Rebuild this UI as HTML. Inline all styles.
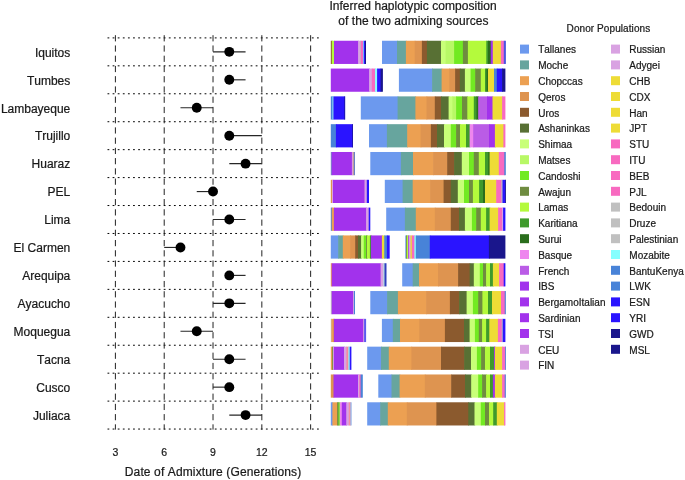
<!DOCTYPE html>
<html><head><meta charset="utf-8"><title>Admixture</title>
<style>
html,body{margin:0;padding:0;background:#fff;}
svg{display:block;will-change:transform;}
text{font-family:"Liberation Sans",sans-serif;fill:#1a1a1a;font-kerning:none;stroke:#1a1a1a;stroke-width:0.22px;}
</style></head><body>
<svg width="685" height="480" viewBox="0 0 685 480">
<rect width="685" height="480" fill="#fff"/>
<g stroke="#000" stroke-width="1" stroke-dasharray="1.8 3.31" fill="none">
<line x1="107.5" y1="37.90" x2="319" y2="37.90"/>
<line x1="107.5" y1="65.84" x2="319" y2="65.84"/>
<line x1="107.5" y1="93.78" x2="319" y2="93.78"/>
<line x1="107.5" y1="121.72" x2="319" y2="121.72"/>
<line x1="107.5" y1="149.66" x2="319" y2="149.66"/>
<line x1="107.5" y1="177.60" x2="319" y2="177.60"/>
<line x1="107.5" y1="205.54" x2="319" y2="205.54"/>
<line x1="107.5" y1="233.48" x2="319" y2="233.48"/>
<line x1="107.5" y1="261.42" x2="319" y2="261.42"/>
<line x1="107.5" y1="289.36" x2="319" y2="289.36"/>
<line x1="107.5" y1="317.30" x2="319" y2="317.30"/>
<line x1="107.5" y1="345.24" x2="319" y2="345.24"/>
<line x1="107.5" y1="373.18" x2="319" y2="373.18"/>
<line x1="107.5" y1="401.12" x2="319" y2="401.12"/>
<line x1="107.5" y1="429.06" x2="319" y2="429.06"/>
</g>
<g stroke="#222" stroke-width="1" stroke-dasharray="6.2 4.04" fill="none">
<line x1="115.40" y1="35.2" x2="115.40" y2="429.6"/>
<line x1="164.21" y1="35.2" x2="164.21" y2="429.6"/>
<line x1="213.02" y1="35.2" x2="213.02" y2="429.6"/>
<line x1="261.83" y1="35.2" x2="261.83" y2="429.6"/>
<line x1="310.64" y1="35.2" x2="310.64" y2="429.6"/>
</g>
<text x="70.3" y="56.67" font-size="12" text-anchor="end">Iquitos</text>
<line x1="213.02" y1="51.87" x2="245.56" y2="51.87" stroke="#262626" stroke-width="1.15"/>
<circle cx="229.29" cy="51.87" r="4.95" fill="#000"/>
<rect x="330.80" y="40.75" width="1.70" height="23.2" fill="#8B5A2E"/>
<rect x="331.80" y="40.75" width="2.90" height="23.2" fill="#B4FA3C"/>
<rect x="334.00" y="40.75" width="24.80" height="23.2" fill="#A232EC"/>
<rect x="358.10" y="40.75" width="2.50" height="23.2" fill="#D9A2E2"/>
<rect x="359.90" y="40.75" width="1.50" height="23.2" fill="#C0C0C0"/>
<rect x="360.70" y="40.75" width="3.10" height="23.2" fill="#F86AC0"/>
<rect x="363.10" y="40.75" width="1.30" height="23.2" fill="#86FFFF"/>
<rect x="363.70" y="40.75" width="2.00" height="23.2" fill="#2A14FF"/>
<rect x="365.00" y="40.75" width="1.00" height="23.2" fill="#1A168C"/>
<rect x="382.00" y="40.75" width="15.70" height="23.2" fill="#6C99EE"/>
<rect x="397.00" y="40.75" width="9.60" height="23.2" fill="#67A59E"/>
<rect x="405.90" y="40.75" width="9.50" height="23.2" fill="#ECA052"/>
<rect x="414.70" y="40.75" width="7.90" height="23.2" fill="#DE9450"/>
<rect x="421.90" y="40.75" width="5.70" height="23.2" fill="#8B5A2E"/>
<rect x="426.90" y="40.75" width="14.80" height="23.2" fill="#587034"/>
<rect x="441.00" y="40.75" width="5.30" height="23.2" fill="#C8FF78"/>
<rect x="445.60" y="40.75" width="9.20" height="23.2" fill="#B8F866"/>
<rect x="454.10" y="40.75" width="9.50" height="23.2" fill="#72EA22"/>
<rect x="462.90" y="40.75" width="5.70" height="23.2" fill="#6F8C40"/>
<rect x="467.90" y="40.75" width="19.10" height="23.2" fill="#B4FA3C"/>
<rect x="486.30" y="40.75" width="2.40" height="23.2" fill="#3F9A2C"/>
<rect x="488.00" y="40.75" width="3.40" height="23.2" fill="#2A6E1C"/>
<rect x="490.70" y="40.75" width="2.80" height="23.2" fill="#A232EC"/>
<rect x="492.80" y="40.75" width="8.80" height="23.2" fill="#EEDC36"/>
<rect x="500.90" y="40.75" width="3.60" height="23.2" fill="#F86AC0"/>
<rect x="503.80" y="40.75" width="2.10" height="23.2" fill="#4B55E0"/>
<text x="70.3" y="84.61" font-size="12" text-anchor="end">Tumbes</text>
<line x1="229.29" y1="79.81" x2="245.56" y2="79.81" stroke="#262626" stroke-width="1.15"/>
<circle cx="229.29" cy="79.81" r="4.95" fill="#000"/>
<rect x="330.80" y="68.56" width="39.00" height="23.2" fill="#A232EC"/>
<rect x="369.10" y="68.56" width="3.40" height="23.2" fill="#D9A2E2"/>
<rect x="371.80" y="68.56" width="3.90" height="23.2" fill="#F86AC0"/>
<rect x="375.00" y="68.56" width="2.80" height="23.2" fill="#86FFFF"/>
<rect x="377.10" y="68.56" width="4.20" height="23.2" fill="#2A14FF"/>
<rect x="380.60" y="68.56" width="2.30" height="23.2" fill="#1A168C"/>
<rect x="398.90" y="68.56" width="33.90" height="23.2" fill="#6C99EE"/>
<rect x="432.10" y="68.56" width="10.20" height="23.2" fill="#67A59E"/>
<rect x="441.60" y="68.56" width="8.40" height="23.2" fill="#ECA052"/>
<rect x="449.30" y="68.56" width="6.50" height="23.2" fill="#DE9450"/>
<rect x="455.10" y="68.56" width="5.40" height="23.2" fill="#8B5A2E"/>
<rect x="459.80" y="68.56" width="5.80" height="23.2" fill="#587034"/>
<rect x="464.90" y="68.56" width="6.40" height="23.2" fill="#C8FF78"/>
<rect x="470.60" y="68.56" width="5.30" height="23.2" fill="#72EA22"/>
<rect x="475.20" y="68.56" width="6.30" height="23.2" fill="#6F8C40"/>
<rect x="480.80" y="68.56" width="4.90" height="23.2" fill="#B4FA3C"/>
<rect x="485.00" y="68.56" width="2.20" height="23.2" fill="#3F9A2C"/>
<rect x="486.50" y="68.56" width="2.20" height="23.2" fill="#2A6E1C"/>
<rect x="488.00" y="68.56" width="6.70" height="23.2" fill="#EEDC36"/>
<rect x="494.00" y="68.56" width="3.50" height="23.2" fill="#4883D8"/>
<rect x="496.80" y="68.56" width="6.00" height="23.2" fill="#2A14FF"/>
<rect x="502.10" y="68.56" width="3.30" height="23.2" fill="#1A168C"/>
<text x="70.3" y="112.55" font-size="12" text-anchor="end">Lambayeque</text>
<line x1="180.48" y1="107.75" x2="213.02" y2="107.75" stroke="#262626" stroke-width="1.15"/>
<circle cx="196.75" cy="107.75" r="4.95" fill="#000"/>
<rect x="330.80" y="96.37" width="2.10" height="23.2" fill="#4883D8"/>
<rect x="332.20" y="96.37" width="2.00" height="23.2" fill="#7CC8F0"/>
<rect x="333.50" y="96.37" width="11.60" height="23.2" fill="#2A14FF"/>
<rect x="344.40" y="96.37" width="0.70" height="23.2" fill="#1A168C"/>
<rect x="360.80" y="96.37" width="37.50" height="23.2" fill="#6C99EE"/>
<rect x="397.60" y="96.37" width="18.50" height="23.2" fill="#67A59E"/>
<rect x="415.40" y="96.37" width="11.80" height="23.2" fill="#ECA052"/>
<rect x="426.50" y="96.37" width="9.00" height="23.2" fill="#DE9450"/>
<rect x="434.80" y="96.37" width="6.90" height="23.2" fill="#8B5A2E"/>
<rect x="441.00" y="96.37" width="8.30" height="23.2" fill="#587034"/>
<rect x="448.60" y="96.37" width="4.50" height="23.2" fill="#C8FF78"/>
<rect x="452.40" y="96.37" width="4.40" height="23.2" fill="#B8F866"/>
<rect x="456.10" y="96.37" width="6.60" height="23.2" fill="#72EA22"/>
<rect x="462.00" y="96.37" width="6.00" height="23.2" fill="#6F8C40"/>
<rect x="467.30" y="96.37" width="7.20" height="23.2" fill="#B4FA3C"/>
<rect x="473.80" y="96.37" width="3.40" height="23.2" fill="#3F9A2C"/>
<rect x="476.50" y="96.37" width="2.40" height="23.2" fill="#2A6E1C"/>
<rect x="478.20" y="96.37" width="9.50" height="23.2" fill="#BA5CE6"/>
<rect x="487.00" y="96.37" width="6.20" height="23.2" fill="#A232EC"/>
<rect x="492.50" y="96.37" width="10.30" height="23.2" fill="#EEDC36"/>
<rect x="502.10" y="96.37" width="3.30" height="23.2" fill="#F86AC0"/>
<text x="70.3" y="140.49" font-size="12" text-anchor="end">Trujillo</text>
<line x1="229.29" y1="135.69" x2="261.83" y2="135.69" stroke="#262626" stroke-width="1.15"/>
<circle cx="229.29" cy="135.69" r="4.95" fill="#000"/>
<rect x="330.80" y="124.18" width="5.80" height="23.2" fill="#4883D8"/>
<rect x="335.90" y="124.18" width="17.10" height="23.2" fill="#2A14FF"/>
<rect x="352.30" y="124.18" width="0.70" height="23.2" fill="#1A168C"/>
<rect x="369.00" y="124.18" width="18.60" height="23.2" fill="#6C99EE"/>
<rect x="386.90" y="124.18" width="21.00" height="23.2" fill="#67A59E"/>
<rect x="407.20" y="124.18" width="14.10" height="23.2" fill="#ECA052"/>
<rect x="420.60" y="124.18" width="11.00" height="23.2" fill="#DE9450"/>
<rect x="430.90" y="124.18" width="6.80" height="23.2" fill="#8B5A2E"/>
<rect x="437.00" y="124.18" width="7.70" height="23.2" fill="#587034"/>
<rect x="444.00" y="124.18" width="7.50" height="23.2" fill="#C8FF78"/>
<rect x="450.80" y="124.18" width="6.00" height="23.2" fill="#72EA22"/>
<rect x="456.10" y="124.18" width="4.60" height="23.2" fill="#6F8C40"/>
<rect x="460.00" y="124.18" width="6.70" height="23.2" fill="#B4FA3C"/>
<rect x="466.00" y="124.18" width="4.30" height="23.2" fill="#3F9A2C"/>
<rect x="469.60" y="124.18" width="4.30" height="23.2" fill="#EE86EE"/>
<rect x="473.20" y="124.18" width="16.50" height="23.2" fill="#BA5CE6"/>
<rect x="489.00" y="124.18" width="6.60" height="23.2" fill="#A232EC"/>
<rect x="494.90" y="124.18" width="9.20" height="23.2" fill="#EEDC36"/>
<rect x="503.40" y="124.18" width="2.00" height="23.2" fill="#F86AC0"/>
<text x="70.3" y="168.43" font-size="12" text-anchor="end">Huaraz</text>
<line x1="229.29" y1="163.63" x2="261.83" y2="163.63" stroke="#262626" stroke-width="1.15"/>
<circle cx="245.56" cy="163.63" r="4.95" fill="#000"/>
<rect x="330.80" y="151.99" width="1.60" height="23.2" fill="#7A8AC8"/>
<rect x="331.70" y="151.99" width="20.90" height="23.2" fill="#A232EC"/>
<rect x="351.90" y="151.99" width="1.70" height="23.2" fill="#D9A2E2"/>
<rect x="352.90" y="151.99" width="1.60" height="23.2" fill="#D8A890"/>
<rect x="353.80" y="151.99" width="1.10" height="23.2" fill="#5A78C8"/>
<rect x="370.30" y="151.99" width="31.30" height="23.2" fill="#6C99EE"/>
<rect x="400.90" y="151.99" width="12.80" height="23.2" fill="#67A59E"/>
<rect x="413.00" y="151.99" width="20.80" height="23.2" fill="#ECA052"/>
<rect x="433.10" y="151.99" width="14.80" height="23.2" fill="#DE9450"/>
<rect x="447.20" y="151.99" width="7.60" height="23.2" fill="#8B5A2E"/>
<rect x="454.10" y="151.99" width="8.40" height="23.2" fill="#587034"/>
<rect x="461.80" y="151.99" width="7.90" height="23.2" fill="#C8FF78"/>
<rect x="469.00" y="151.99" width="5.50" height="23.2" fill="#72EA22"/>
<rect x="473.80" y="151.99" width="5.70" height="23.2" fill="#6F8C40"/>
<rect x="478.80" y="151.99" width="6.90" height="23.2" fill="#B4FA3C"/>
<rect x="485.00" y="151.99" width="4.00" height="23.2" fill="#3F9A2C"/>
<rect x="488.30" y="151.99" width="2.00" height="23.2" fill="#2A6E1C"/>
<rect x="489.60" y="151.99" width="9.90" height="23.2" fill="#EEDC36"/>
<rect x="498.80" y="151.99" width="6.20" height="23.2" fill="#F86AC0"/>
<rect x="504.30" y="151.99" width="1.50" height="23.2" fill="#4883D8"/>
<text x="70.3" y="196.37" font-size="12" text-anchor="end">PEL</text>
<line x1="196.75" y1="191.57" x2="213.02" y2="191.57" stroke="#262626" stroke-width="1.15"/>
<circle cx="213.02" cy="191.57" r="4.95" fill="#000"/>
<rect x="330.80" y="179.80" width="1.90" height="23.2" fill="#DE9450"/>
<rect x="332.00" y="179.80" width="1.70" height="23.2" fill="#D9A2E2"/>
<rect x="333.00" y="179.80" width="32.20" height="23.2" fill="#A232EC"/>
<rect x="364.50" y="179.80" width="3.00" height="23.2" fill="#D9A2E2"/>
<rect x="366.80" y="179.80" width="2.20" height="23.2" fill="#2A14FF"/>
<rect x="384.80" y="179.80" width="18.50" height="23.2" fill="#6C99EE"/>
<rect x="402.60" y="179.80" width="10.80" height="23.2" fill="#67A59E"/>
<rect x="412.70" y="179.80" width="18.10" height="23.2" fill="#ECA052"/>
<rect x="430.10" y="179.80" width="14.20" height="23.2" fill="#DE9450"/>
<rect x="443.60" y="179.80" width="7.90" height="23.2" fill="#8B5A2E"/>
<rect x="450.80" y="179.80" width="7.70" height="23.2" fill="#587034"/>
<rect x="457.80" y="179.80" width="6.90" height="23.2" fill="#C8FF78"/>
<rect x="464.00" y="179.80" width="5.70" height="23.2" fill="#72EA22"/>
<rect x="469.00" y="179.80" width="4.60" height="23.2" fill="#6F8C40"/>
<rect x="472.90" y="179.80" width="6.90" height="23.2" fill="#B4FA3C"/>
<rect x="479.10" y="179.80" width="4.60" height="23.2" fill="#3F9A2C"/>
<rect x="483.00" y="179.80" width="2.70" height="23.2" fill="#2A6E1C"/>
<rect x="485.00" y="179.80" width="11.90" height="23.2" fill="#EEDC36"/>
<rect x="496.20" y="179.80" width="5.90" height="23.2" fill="#F86AC0"/>
<rect x="501.40" y="179.80" width="1.80" height="23.2" fill="#C0C0C0"/>
<rect x="502.50" y="179.80" width="3.20" height="23.2" fill="#2A14FF"/>
<rect x="505.00" y="179.80" width="0.80" height="23.2" fill="#1A168C"/>
<text x="70.3" y="224.31" font-size="12" text-anchor="end">Lima</text>
<line x1="213.02" y1="219.51" x2="245.56" y2="219.51" stroke="#262626" stroke-width="1.15"/>
<circle cx="229.29" cy="219.51" r="4.95" fill="#000"/>
<rect x="330.80" y="207.61" width="1.60" height="23.2" fill="#4883D8"/>
<rect x="331.70" y="207.61" width="2.90" height="23.2" fill="#ECA052"/>
<rect x="333.90" y="207.61" width="32.90" height="23.2" fill="#A232EC"/>
<rect x="366.10" y="207.61" width="3.30" height="23.2" fill="#D9A2E2"/>
<rect x="368.70" y="207.61" width="1.60" height="23.2" fill="#2A14FF"/>
<rect x="386.20" y="207.61" width="19.40" height="23.2" fill="#6C99EE"/>
<rect x="404.90" y="207.61" width="11.60" height="23.2" fill="#67A59E"/>
<rect x="415.80" y="207.61" width="19.70" height="23.2" fill="#ECA052"/>
<rect x="434.80" y="207.61" width="16.70" height="23.2" fill="#DE9450"/>
<rect x="450.80" y="207.61" width="8.90" height="23.2" fill="#8B5A2E"/>
<rect x="459.00" y="207.61" width="6.60" height="23.2" fill="#587034"/>
<rect x="464.90" y="207.61" width="7.70" height="23.2" fill="#C8FF78"/>
<rect x="471.90" y="207.61" width="5.00" height="23.2" fill="#72EA22"/>
<rect x="476.20" y="207.61" width="5.30" height="23.2" fill="#6F8C40"/>
<rect x="480.80" y="207.61" width="6.00" height="23.2" fill="#B4FA3C"/>
<rect x="486.10" y="207.61" width="4.20" height="23.2" fill="#3F9A2C"/>
<rect x="489.60" y="207.61" width="9.20" height="23.2" fill="#EEDC36"/>
<rect x="498.10" y="207.61" width="4.70" height="23.2" fill="#F86AC0"/>
<rect x="502.10" y="207.61" width="1.70" height="23.2" fill="#D9A2E2"/>
<rect x="503.10" y="207.61" width="2.30" height="23.2" fill="#2A14FF"/>
<text x="70.3" y="252.25" font-size="12" text-anchor="end">El Carmen</text>
<line x1="164.21" y1="247.45" x2="180.48" y2="247.45" stroke="#262626" stroke-width="1.15"/>
<circle cx="180.48" cy="247.45" r="4.95" fill="#000"/>
<rect x="330.80" y="235.42" width="8.10" height="23.2" fill="#6C99EE"/>
<rect x="338.20" y="235.42" width="5.30" height="23.2" fill="#67A59E"/>
<rect x="342.80" y="235.42" width="8.00" height="23.2" fill="#ECA052"/>
<rect x="350.10" y="235.42" width="5.80" height="23.2" fill="#DE9450"/>
<rect x="355.20" y="235.42" width="3.50" height="23.2" fill="#8B5A2E"/>
<rect x="358.00" y="235.42" width="3.80" height="23.2" fill="#587034"/>
<rect x="361.10" y="235.42" width="3.35" height="23.2" fill="#C8FF78"/>
<rect x="363.75" y="235.42" width="3.05" height="23.2" fill="#72EA22"/>
<rect x="366.10" y="235.42" width="1.60" height="23.2" fill="#6F8C40"/>
<rect x="367.00" y="235.42" width="3.60" height="23.2" fill="#B4FA3C"/>
<rect x="369.90" y="235.42" width="1.70" height="23.2" fill="#3F9A2C"/>
<rect x="370.90" y="235.42" width="11.70" height="23.2" fill="#A232EC"/>
<rect x="381.90" y="235.42" width="3.05" height="23.2" fill="#EEDC36"/>
<rect x="384.25" y="235.42" width="3.35" height="23.2" fill="#4883D8"/>
<rect x="386.90" y="235.42" width="2.80" height="23.2" fill="#2A14FF"/>
<rect x="405.30" y="235.42" width="1.40" height="23.2" fill="#6C99EE"/>
<rect x="406.00" y="235.42" width="1.50" height="23.2" fill="#6F8C40"/>
<rect x="406.80" y="235.42" width="2.00" height="23.2" fill="#B4FA3C"/>
<rect x="408.10" y="235.42" width="1.40" height="23.2" fill="#A232EC"/>
<rect x="408.80" y="235.42" width="2.40" height="23.2" fill="#D9A2E2"/>
<rect x="410.50" y="235.42" width="2.00" height="23.2" fill="#EEDC36"/>
<rect x="411.80" y="235.42" width="3.30" height="23.2" fill="#F86AC0"/>
<rect x="414.40" y="235.42" width="2.10" height="23.2" fill="#86FFFF"/>
<rect x="415.80" y="235.42" width="14.70" height="23.2" fill="#4883D8"/>
<rect x="429.80" y="235.42" width="59.80" height="23.2" fill="#2A14FF"/>
<rect x="488.90" y="235.42" width="16.50" height="23.2" fill="#1A168C"/>
<text x="70.3" y="280.19" font-size="12" text-anchor="end">Arequipa</text>
<line x1="229.29" y1="275.39" x2="245.56" y2="275.39" stroke="#262626" stroke-width="1.15"/>
<circle cx="229.29" cy="275.39" r="4.95" fill="#000"/>
<rect x="330.80" y="263.23" width="1.60" height="23.2" fill="#ECA052"/>
<rect x="331.70" y="263.23" width="49.60" height="23.2" fill="#A232EC"/>
<rect x="380.60" y="263.23" width="3.30" height="23.2" fill="#D9A2E2"/>
<rect x="383.20" y="263.23" width="2.00" height="23.2" fill="#B8D8E0"/>
<rect x="384.50" y="263.23" width="2.00" height="23.2" fill="#2E3FC0"/>
<rect x="402.20" y="263.23" width="11.20" height="23.2" fill="#6C99EE"/>
<rect x="412.70" y="263.23" width="7.00" height="23.2" fill="#67A59E"/>
<rect x="419.00" y="263.23" width="19.70" height="23.2" fill="#ECA052"/>
<rect x="438.00" y="263.23" width="20.80" height="23.2" fill="#DE9450"/>
<rect x="458.10" y="263.23" width="12.20" height="23.2" fill="#8B5A2E"/>
<rect x="469.60" y="263.23" width="4.90" height="23.2" fill="#587034"/>
<rect x="473.80" y="263.23" width="6.70" height="23.2" fill="#C8FF78"/>
<rect x="479.80" y="263.23" width="3.90" height="23.2" fill="#72EA22"/>
<rect x="483.00" y="263.23" width="3.80" height="23.2" fill="#6F8C40"/>
<rect x="486.10" y="263.23" width="4.60" height="23.2" fill="#B4FA3C"/>
<rect x="490.00" y="263.23" width="3.60" height="23.2" fill="#3F9A2C"/>
<rect x="492.90" y="263.23" width="6.90" height="23.2" fill="#EEDC36"/>
<rect x="499.10" y="263.23" width="5.30" height="23.2" fill="#F86AC0"/>
<rect x="503.70" y="263.23" width="1.70" height="23.2" fill="#2A14FF"/>
<text x="70.3" y="308.13" font-size="12" text-anchor="end">Ayacucho</text>
<line x1="213.02" y1="303.33" x2="245.56" y2="303.33" stroke="#262626" stroke-width="1.15"/>
<circle cx="229.29" cy="303.33" r="4.95" fill="#000"/>
<rect x="330.80" y="291.04" width="1.60" height="23.2" fill="#C0C0C0"/>
<rect x="331.70" y="291.04" width="22.00" height="23.2" fill="#A232EC"/>
<rect x="353.00" y="291.04" width="1.60" height="23.2" fill="#D9A2E2"/>
<rect x="353.90" y="291.04" width="1.10" height="23.2" fill="#4883D8"/>
<rect x="370.30" y="291.04" width="17.50" height="23.2" fill="#6C99EE"/>
<rect x="387.10" y="291.04" width="11.50" height="23.2" fill="#67A59E"/>
<rect x="397.90" y="291.04" width="28.90" height="23.2" fill="#ECA052"/>
<rect x="426.10" y="291.04" width="24.50" height="23.2" fill="#DE9450"/>
<rect x="449.90" y="291.04" width="9.90" height="23.2" fill="#8B5A2E"/>
<rect x="459.10" y="291.04" width="8.20" height="23.2" fill="#587034"/>
<rect x="466.60" y="291.04" width="7.00" height="23.2" fill="#C8FF78"/>
<rect x="472.90" y="291.04" width="6.00" height="23.2" fill="#72EA22"/>
<rect x="478.20" y="291.04" width="4.90" height="23.2" fill="#6F8C40"/>
<rect x="482.40" y="291.04" width="6.30" height="23.2" fill="#B4FA3C"/>
<rect x="488.00" y="291.04" width="4.70" height="23.2" fill="#3F9A2C"/>
<rect x="492.00" y="291.04" width="9.70" height="23.2" fill="#EEDC36"/>
<rect x="501.00" y="291.04" width="4.40" height="23.2" fill="#F86AC0"/>
<rect x="504.70" y="291.04" width="1.10" height="23.2" fill="#4883D8"/>
<text x="70.3" y="336.07" font-size="12" text-anchor="end">Moquegua</text>
<line x1="180.48" y1="331.27" x2="213.02" y2="331.27" stroke="#262626" stroke-width="1.15"/>
<circle cx="196.75" cy="331.27" r="4.95" fill="#000"/>
<rect x="330.80" y="318.85" width="1.30" height="23.2" fill="#C0C0C0"/>
<rect x="331.40" y="318.85" width="2.30" height="23.2" fill="#ECA052"/>
<rect x="333.00" y="318.85" width="1.60" height="23.2" fill="#DE9450"/>
<rect x="333.90" y="318.85" width="30.00" height="23.2" fill="#A232EC"/>
<rect x="363.20" y="318.85" width="1.60" height="23.2" fill="#D9A2E2"/>
<rect x="364.10" y="318.85" width="2.00" height="23.2" fill="#5A5AF0"/>
<rect x="381.90" y="318.85" width="11.60" height="23.2" fill="#6C99EE"/>
<rect x="392.80" y="318.85" width="7.90" height="23.2" fill="#67A59E"/>
<rect x="400.00" y="318.85" width="20.00" height="23.2" fill="#ECA052"/>
<rect x="419.30" y="318.85" width="26.30" height="23.2" fill="#DE9450"/>
<rect x="444.90" y="318.85" width="19.80" height="23.2" fill="#8B5A2E"/>
<rect x="464.00" y="318.85" width="6.30" height="23.2" fill="#587034"/>
<rect x="469.60" y="318.85" width="6.00" height="23.2" fill="#C8FF78"/>
<rect x="474.90" y="318.85" width="4.60" height="23.2" fill="#72EA22"/>
<rect x="478.80" y="318.85" width="4.00" height="23.2" fill="#6F8C40"/>
<rect x="482.10" y="318.85" width="4.70" height="23.2" fill="#B4FA3C"/>
<rect x="486.10" y="318.85" width="3.90" height="23.2" fill="#3F9A2C"/>
<rect x="489.30" y="318.85" width="9.30" height="23.2" fill="#EEDC36"/>
<rect x="497.90" y="318.85" width="4.60" height="23.2" fill="#F86AC0"/>
<rect x="501.80" y="318.85" width="1.60" height="23.2" fill="#C0C0C0"/>
<rect x="502.70" y="318.85" width="2.70" height="23.2" fill="#2A14FF"/>
<text x="70.3" y="364.01" font-size="12" text-anchor="end">Tacna</text>
<line x1="213.02" y1="359.21" x2="245.56" y2="359.21" stroke="#262626" stroke-width="1.15"/>
<circle cx="229.29" cy="359.21" r="4.95" fill="#000"/>
<rect x="330.80" y="346.66" width="2.10" height="23.2" fill="#ECA052"/>
<rect x="332.20" y="346.66" width="1.50" height="23.2" fill="#6F8C40"/>
<rect x="333.00" y="346.66" width="1.60" height="23.2" fill="#D9A2E2"/>
<rect x="333.90" y="346.66" width="10.80" height="23.2" fill="#A232EC"/>
<rect x="344.00" y="346.66" width="3.10" height="23.2" fill="#D9A2E2"/>
<rect x="346.40" y="346.66" width="2.70" height="23.2" fill="#F5889F"/>
<rect x="348.40" y="346.66" width="2.00" height="23.2" fill="#86FFFF"/>
<rect x="349.70" y="346.66" width="1.70" height="23.2" fill="#2A14FF"/>
<rect x="367.20" y="346.66" width="14.50" height="23.2" fill="#6C99EE"/>
<rect x="381.00" y="346.66" width="8.50" height="23.2" fill="#67A59E"/>
<rect x="388.80" y="346.66" width="23.30" height="23.2" fill="#ECA052"/>
<rect x="411.40" y="346.66" width="30.30" height="23.2" fill="#DE9450"/>
<rect x="441.00" y="346.66" width="23.90" height="23.2" fill="#8B5A2E"/>
<rect x="464.20" y="346.66" width="7.50" height="23.2" fill="#587034"/>
<rect x="471.00" y="346.66" width="6.60" height="23.2" fill="#C8FF78"/>
<rect x="476.90" y="346.66" width="4.90" height="23.2" fill="#72EA22"/>
<rect x="481.10" y="346.66" width="4.60" height="23.2" fill="#6F8C40"/>
<rect x="485.00" y="346.66" width="5.70" height="23.2" fill="#B4FA3C"/>
<rect x="490.00" y="346.66" width="4.70" height="23.2" fill="#3F9A2C"/>
<rect x="494.00" y="346.66" width="1.60" height="23.2" fill="#A232EC"/>
<rect x="494.90" y="346.66" width="7.90" height="23.2" fill="#EEDC36"/>
<rect x="502.10" y="346.66" width="3.60" height="23.2" fill="#F86AC0"/>
<rect x="505.00" y="346.66" width="0.80" height="23.2" fill="#4883D8"/>
<text x="70.3" y="391.95" font-size="12" text-anchor="end">Cusco</text>
<line x1="213.02" y1="387.15" x2="229.29" y2="387.15" stroke="#262626" stroke-width="1.15"/>
<circle cx="229.29" cy="387.15" r="4.95" fill="#000"/>
<rect x="330.80" y="374.47" width="3.40" height="23.2" fill="#DE9450"/>
<rect x="333.50" y="374.47" width="25.20" height="23.2" fill="#A232EC"/>
<rect x="358.00" y="374.47" width="2.00" height="23.2" fill="#D9A2E2"/>
<rect x="359.30" y="374.47" width="2.00" height="23.2" fill="#F86AC0"/>
<rect x="360.60" y="374.47" width="2.20" height="23.2" fill="#4883D8"/>
<rect x="378.30" y="374.47" width="13.90" height="23.2" fill="#6C99EE"/>
<rect x="391.50" y="374.47" width="8.80" height="23.2" fill="#67A59E"/>
<rect x="399.60" y="374.47" width="25.90" height="23.2" fill="#ECA052"/>
<rect x="424.80" y="374.47" width="27.10" height="23.2" fill="#DE9450"/>
<rect x="451.20" y="374.47" width="14.50" height="23.2" fill="#8B5A2E"/>
<rect x="465.00" y="374.47" width="6.90" height="23.2" fill="#587034"/>
<rect x="471.20" y="374.47" width="7.70" height="23.2" fill="#C8FF78"/>
<rect x="478.20" y="374.47" width="4.60" height="23.2" fill="#72EA22"/>
<rect x="482.10" y="374.47" width="4.70" height="23.2" fill="#6F8C40"/>
<rect x="486.10" y="374.47" width="4.60" height="23.2" fill="#B4FA3C"/>
<rect x="490.00" y="374.47" width="3.60" height="23.2" fill="#3F9A2C"/>
<rect x="492.90" y="374.47" width="2.70" height="23.2" fill="#A232EC"/>
<rect x="494.90" y="374.47" width="7.90" height="23.2" fill="#EEDC36"/>
<rect x="502.10" y="374.47" width="3.30" height="23.2" fill="#F86AC0"/>
<rect x="504.70" y="374.47" width="1.10" height="23.2" fill="#4883D8"/>
<text x="70.3" y="419.89" font-size="12" text-anchor="end">Juliaca</text>
<line x1="229.29" y1="415.09" x2="261.83" y2="415.09" stroke="#262626" stroke-width="1.15"/>
<circle cx="245.56" cy="415.09" r="4.95" fill="#000"/>
<rect x="330.80" y="402.28" width="2.30" height="23.2" fill="#6C99EE"/>
<rect x="332.40" y="402.28" width="5.40" height="23.2" fill="#ECA052"/>
<rect x="337.10" y="402.28" width="2.10" height="23.2" fill="#6F8C40"/>
<rect x="338.50" y="402.28" width="1.95" height="23.2" fill="#72EA22"/>
<rect x="339.75" y="402.28" width="2.75" height="23.2" fill="#EE86EE"/>
<rect x="341.80" y="402.28" width="5.15" height="23.2" fill="#A232EC"/>
<rect x="346.25" y="402.28" width="3.20" height="23.2" fill="#D9A2E2"/>
<rect x="348.75" y="402.28" width="2.25" height="23.2" fill="#F58FA0"/>
<rect x="350.30" y="402.28" width="1.40" height="23.2" fill="#9AB8E8"/>
<rect x="367.20" y="402.28" width="13.70" height="23.2" fill="#6C99EE"/>
<rect x="380.20" y="402.28" width="8.30" height="23.2" fill="#67A59E"/>
<rect x="387.80" y="402.28" width="19.70" height="23.2" fill="#ECA052"/>
<rect x="406.80" y="402.28" width="30.30" height="23.2" fill="#DE9450"/>
<rect x="436.40" y="402.28" width="32.60" height="23.2" fill="#8B5A2E"/>
<rect x="468.30" y="402.28" width="6.90" height="23.2" fill="#587034"/>
<rect x="474.50" y="402.28" width="7.00" height="23.2" fill="#C8FF78"/>
<rect x="480.80" y="402.28" width="4.90" height="23.2" fill="#72EA22"/>
<rect x="485.00" y="402.28" width="4.70" height="23.2" fill="#6F8C40"/>
<rect x="489.00" y="402.28" width="4.90" height="23.2" fill="#B4FA3C"/>
<rect x="493.20" y="402.28" width="4.30" height="23.2" fill="#3F9A2C"/>
<rect x="496.80" y="402.28" width="8.00" height="23.2" fill="#EEDC36"/>
<rect x="504.10" y="402.28" width="1.30" height="23.2" fill="#F86AC0"/>
<text x="115.40" y="455.6" font-size="10.5" text-anchor="middle">3</text>
<text x="164.21" y="455.6" font-size="10.5" text-anchor="middle">6</text>
<text x="213.02" y="455.6" font-size="10.5" text-anchor="middle">9</text>
<text x="261.83" y="455.6" font-size="10.5" text-anchor="middle">12</text>
<text x="310.64" y="455.6" font-size="10.5" text-anchor="middle">15</text>
<text x="213.0" y="475.8" font-size="12" text-anchor="middle" textLength="176.4" lengthAdjust="spacing">Date of Admixture (Generations)</text>
<text x="413.0" y="10.1" font-size="12" text-anchor="middle" textLength="167.2" lengthAdjust="spacing">Inferred haplotypic composition</text>
<text x="413.4" y="24.8" font-size="12" text-anchor="middle" textLength="150.4" lengthAdjust="spacing">of the two admixing sources</text>
<text x="608.4" y="31.9" font-size="10" text-anchor="middle" textLength="83.6" lengthAdjust="spacing">Donor Populations</text>
<rect x="520" y="44.60" width="9" height="9" fill="#6C99EE"/>
<text x="538.2" y="53.30" font-size="10">Tallanes</text>
<rect x="520" y="60.40" width="9" height="9" fill="#67A59E"/>
<text x="538.2" y="69.10" font-size="10">Moche</text>
<rect x="520" y="76.20" width="9" height="9" fill="#ECA052"/>
<text x="538.2" y="84.90" font-size="10">Chopccas</text>
<rect x="520" y="92.00" width="9" height="9" fill="#DE9450"/>
<text x="538.2" y="100.70" font-size="10">Qeros</text>
<rect x="520" y="107.80" width="9" height="9" fill="#8B5A2E"/>
<text x="538.2" y="116.50" font-size="10">Uros</text>
<rect x="520" y="123.60" width="9" height="9" fill="#587034"/>
<text x="538.2" y="132.30" font-size="10">Ashaninkas</text>
<rect x="520" y="139.40" width="9" height="9" fill="#C8FF78"/>
<text x="538.2" y="148.10" font-size="10">Shimaa</text>
<rect x="520" y="155.20" width="9" height="9" fill="#B8F866"/>
<text x="538.2" y="163.90" font-size="10">Matses</text>
<rect x="520" y="171.00" width="9" height="9" fill="#72EA22"/>
<text x="538.2" y="179.70" font-size="10">Candoshi</text>
<rect x="520" y="186.80" width="9" height="9" fill="#6F8C40"/>
<text x="538.2" y="195.50" font-size="10">Awajun</text>
<rect x="520" y="202.60" width="9" height="9" fill="#B4FA3C"/>
<text x="538.2" y="211.30" font-size="10">Lamas</text>
<rect x="520" y="218.40" width="9" height="9" fill="#3F9A2C"/>
<text x="538.2" y="227.10" font-size="10">Karitiana</text>
<rect x="520" y="234.20" width="9" height="9" fill="#2A6E1C"/>
<text x="538.2" y="242.90" font-size="10">Surui</text>
<rect x="520" y="250.00" width="9" height="9" fill="#EE86EE"/>
<text x="538.2" y="258.70" font-size="10">Basque</text>
<rect x="520" y="265.80" width="9" height="9" fill="#BA5CE6"/>
<text x="538.2" y="274.50" font-size="10">French</text>
<rect x="520" y="281.60" width="9" height="9" fill="#A232EC"/>
<text x="538.2" y="290.30" font-size="10">IBS</text>
<rect x="520" y="297.40" width="9" height="9" fill="#A232EC"/>
<text x="538.2" y="306.10" font-size="10">BergamoItalian</text>
<rect x="520" y="313.20" width="9" height="9" fill="#A232EC"/>
<text x="538.2" y="321.90" font-size="10">Sardinian</text>
<rect x="520" y="329.00" width="9" height="9" fill="#A232EC"/>
<text x="538.2" y="337.70" font-size="10">TSI</text>
<rect x="520" y="344.80" width="9" height="9" fill="#D9A2E2"/>
<text x="538.2" y="353.50" font-size="10">CEU</text>
<rect x="520" y="360.60" width="9" height="9" fill="#D9A2E2"/>
<text x="538.2" y="369.30" font-size="10">FIN</text>
<rect x="611" y="44.60" width="9" height="9" fill="#D9A2E2"/>
<text x="629.3" y="53.30" font-size="10">Russian</text>
<rect x="611" y="60.40" width="9" height="9" fill="#D9A2E2"/>
<text x="629.3" y="69.10" font-size="10">Adygei</text>
<rect x="611" y="76.20" width="9" height="9" fill="#EEDC36"/>
<text x="629.3" y="84.90" font-size="10">CHB</text>
<rect x="611" y="92.00" width="9" height="9" fill="#EEDC36"/>
<text x="629.3" y="100.70" font-size="10">CDX</text>
<rect x="611" y="107.80" width="9" height="9" fill="#EEDC36"/>
<text x="629.3" y="116.50" font-size="10">Han</text>
<rect x="611" y="123.60" width="9" height="9" fill="#EEDC36"/>
<text x="629.3" y="132.30" font-size="10">JPT</text>
<rect x="611" y="139.40" width="9" height="9" fill="#F86AC0"/>
<text x="629.3" y="148.10" font-size="10">STU</text>
<rect x="611" y="155.20" width="9" height="9" fill="#F86AC0"/>
<text x="629.3" y="163.90" font-size="10">ITU</text>
<rect x="611" y="171.00" width="9" height="9" fill="#F86AC0"/>
<text x="629.3" y="179.70" font-size="10">BEB</text>
<rect x="611" y="186.80" width="9" height="9" fill="#F86AC0"/>
<text x="629.3" y="195.50" font-size="10">PJL</text>
<rect x="611" y="202.60" width="9" height="9" fill="#C0C0C0"/>
<text x="629.3" y="211.30" font-size="10">Bedouin</text>
<rect x="611" y="218.40" width="9" height="9" fill="#C0C0C0"/>
<text x="629.3" y="227.10" font-size="10">Druze</text>
<rect x="611" y="234.20" width="9" height="9" fill="#C0C0C0"/>
<text x="629.3" y="242.90" font-size="10">Palestinian</text>
<rect x="611" y="250.00" width="9" height="9" fill="#86FFFF"/>
<text x="629.3" y="258.70" font-size="10">Mozabite</text>
<rect x="611" y="265.80" width="9" height="9" fill="#4883D8"/>
<text x="629.3" y="274.50" font-size="10">BantuKenya</text>
<rect x="611" y="281.60" width="9" height="9" fill="#4883D8"/>
<text x="629.3" y="290.30" font-size="10">LWK</text>
<rect x="611" y="297.40" width="9" height="9" fill="#2A14FF"/>
<text x="629.3" y="306.10" font-size="10">ESN</text>
<rect x="611" y="313.20" width="9" height="9" fill="#2A14FF"/>
<text x="629.3" y="321.90" font-size="10">YRI</text>
<rect x="611" y="329.00" width="9" height="9" fill="#1A168C"/>
<text x="629.3" y="337.70" font-size="10">GWD</text>
<rect x="611" y="344.80" width="9" height="9" fill="#1A168C"/>
<text x="629.3" y="353.50" font-size="10">MSL</text>
</svg>
</body></html>
